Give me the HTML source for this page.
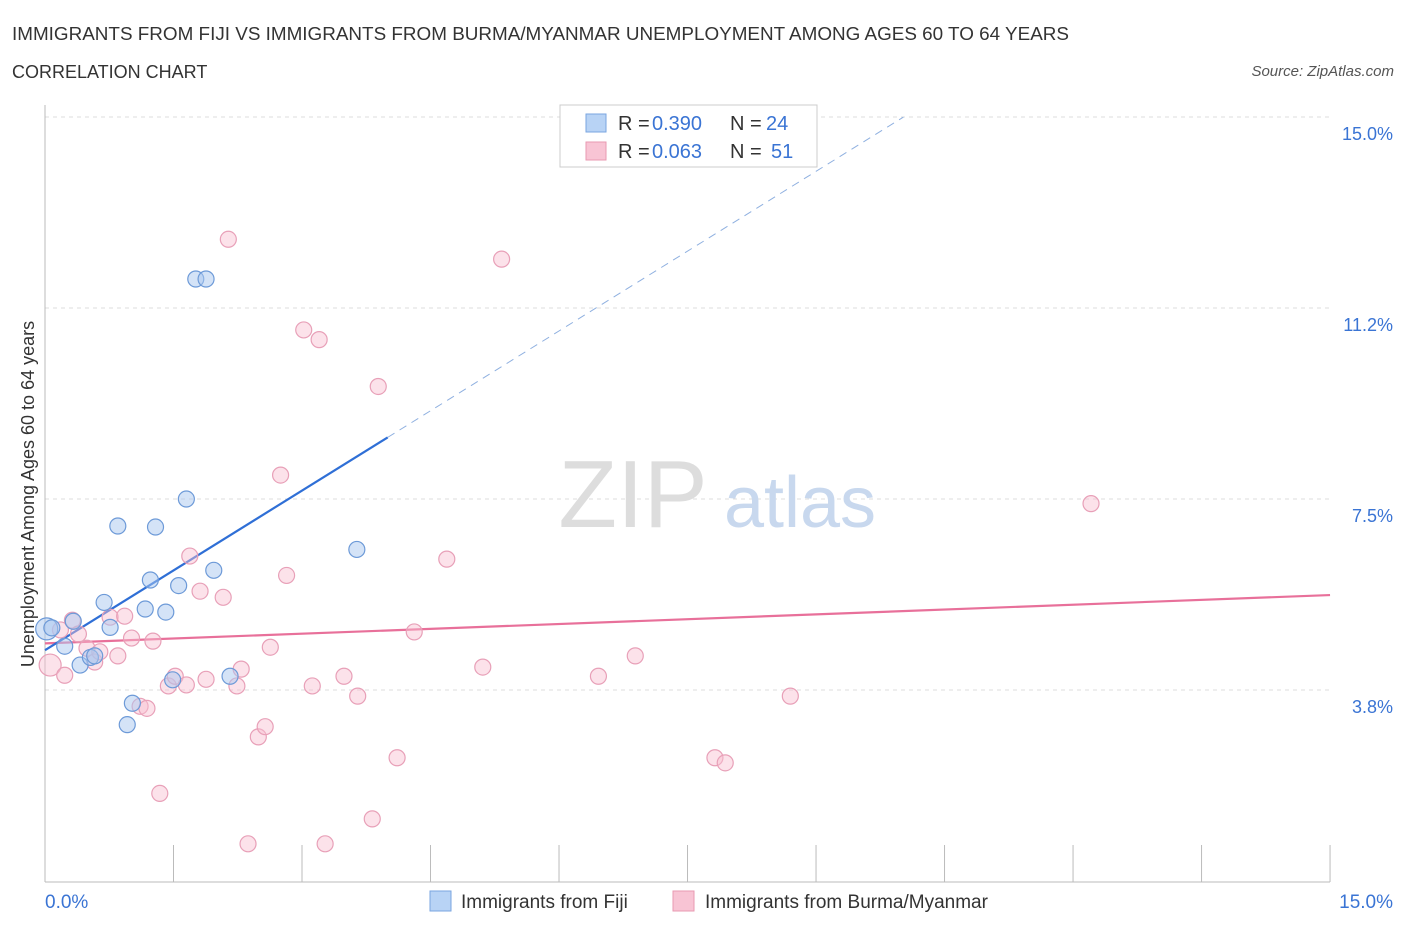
<!DOCTYPE html>
<html><head><meta charset="utf-8"><style>
body{margin:0;background:#fff;font-family:"Liberation Sans",sans-serif;}
svg text{font-family:"Liberation Sans",sans-serif;}
</style></head><body>
<svg width="1406" height="930" xmlns="http://www.w3.org/2000/svg">
<text x="12" y="40" font-size="18" fill="#333" textLength="1057" lengthAdjust="spacingAndGlyphs">IMMIGRANTS FROM FIJI VS IMMIGRANTS FROM BURMA/MYANMAR UNEMPLOYMENT AMONG AGES 60 TO 64 YEARS</text>
<text x="12" y="78" font-size="18" fill="#333">CORRELATION CHART</text>
<text x="1394" y="76" font-size="15" fill="#555" font-style="italic" text-anchor="end">Source: ZipAtlas.com</text>
<g id="grid"></g>
<text x="633" y="527" font-size="96" fill="#ddd" font-family="Liberation Serif" text-anchor="middle">ZIP</text>
<text x="800" y="527" font-size="72" fill="#c8d8ee" text-anchor="middle">atlas</text>
<text transform="translate(34,494) rotate(-90)" font-size="18" fill="#333" text-anchor="middle">Unemployment Among Ages 60 to 64 years</text>
<g id="lines"></g>
<g id="points"></g>
<g>
<rect x="560" y="105" width="257" height="62" fill="#fff" stroke="#ccc"/>
<rect x="586" y="114" width="20" height="18" fill="#b8d3f5" stroke="#7aa6e0"/>
<text x="618" y="130" font-size="20" fill="#333">R =</text>
<text x="652" y="130" font-size="20" fill="#3a74d4">0.390</text>
<text x="730" y="130" font-size="20" fill="#333">N =</text>
<text x="766" y="130" font-size="20" fill="#3a74d4">24</text>
<rect x="586" y="142" width="20" height="18" fill="#f8c4d4" stroke="#e89ab2"/>
<text x="618" y="158" font-size="20" fill="#333">R =</text>
<text x="652" y="158" font-size="20" fill="#3a74d4">0.063</text>
<text x="730" y="158" font-size="20" fill="#333">N =</text>
<text x="771" y="158" font-size="20" fill="#3a74d4">51</text>
</g>
<g>
<rect x="430" y="891" width="21" height="20" fill="#b8d3f5" stroke="#7aa6e0"/>
<text x="461" y="908" font-size="19" fill="#333">Immigrants from Fiji</text>
<rect x="673" y="891" width="21" height="20" fill="#f8c4d4" stroke="#e89ab2"/>
<text x="705" y="908" font-size="19" fill="#333">Immigrants from Burma/Myanmar</text>
</g>
</svg>
<script>
const fijiX=[0.02,0.08,0.23,0.33,0.41,0.53,0.58,0.69,0.76,0.85,0.96,1.02,1.17,1.23,1.29,1.41,1.49,1.56,1.65,1.76,1.88,1.97,2.16,3.64];
const fijiY=[4.95,4.97,4.61,5.1,4.24,4.39,4.42,5.47,4.98,6.97,3.07,3.49,5.34,5.91,6.95,5.28,3.95,5.8,7.5,11.82,11.82,6.1,4.02,6.51];
const burmaX=[0.06,0.18,0.23,0.32,0.39,0.49,0.58,0.64,0.76,0.85,0.93,1.01,1.11,1.19,1.26,1.34,1.44,1.52,1.65,1.69,1.81,1.88,2.08,2.14,2.24,2.29,2.37,2.49,2.57,2.63,2.75,2.82,3.02,3.12,3.2,3.27,3.49,3.65,3.82,3.89,4.11,4.31,4.69,5.11,5.33,6.46,6.89,7.82,7.94,8.7,12.21];
const burmaY=[4.24,4.93,4.04,5.12,4.85,4.57,4.3,4.5,5.18,4.42,5.2,4.77,3.43,3.39,4.71,1.72,3.83,4.02,3.85,6.38,5.69,3.96,5.57,12.6,3.83,4.16,0.73,2.83,3.03,4.59,7.97,6.0,10.82,3.83,10.63,0.73,4.02,3.63,1.22,9.71,2.42,4.89,6.32,4.2,12.21,4.02,4.42,2.42,2.32,3.63,7.41];
const yTicks=[15.0,11.2,7.5,3.8];
const yTickVals=[15.0,11.25,7.5,3.75];
const ns="http://www.w3.org/2000/svg";
const X=v=>45+v*85.67, Y=v=>881-v*50.93;
function mk(t,a,p){const e=document.createElementNS(ns,t);for(const k in a)e.setAttribute(k,a[k]);p.appendChild(e);return e;}
const grid=document.getElementById('grid');
yTickVals.forEach((v,i)=>{
 const l=mk('line',{x1:45,x2:1330,y1:Y(v),y2:Y(v),stroke:'#ddd','stroke-dasharray':'4,4'},grid);
 
 
 const t=mk('text',{x:1393,y:Y(v)+23,'font-size':18,fill:'#3a74d4','text-anchor':'end'},grid);
 t.textContent=yTicks[i].toFixed(1)+'%';
 
 
});
const ax=mk('line',{x1:45,x2:1330,y1:882,y2:882,stroke:'#bbb'},grid);


const ay=mk('line',{x1:45,x2:45,y1:105,y2:882,stroke:'#bbb'},grid);


for(let i=1;i<=10;i++){const tk=mk('line',{x1:X(i*1.5),x2:X(i*1.5),y1:845,y2:882,stroke:'#bbb'},grid);
 
 }
[[0,'0.0%','start',45],[15,'15.0%','end',1393]].forEach(d=>{const t=mk('text',{x:d[3],y:908,'font-size':19,fill:'#3a74d4','text-anchor':d[2]},grid);t.textContent=d[1];
 
 });
const lines=document.getElementById('lines');
function fit(xs,ys){const n=xs.length,mx=xs.reduce((a,b)=>a+b)/n,my=ys.reduce((a,b)=>a+b)/n;let sxy=0,sxx=0;xs.forEach((x,i)=>{sxy+=(x-mx)*(ys[i]-my);sxx+=(x-mx)**2});const b=sxy/sxx;return [my-b*mx,b];}
const pts=document.getElementById('points');
burmaX.forEach((x,i)=>{const c=mk('circle',{cx:X(x),cy:Y(burmaY[i]),r:i==0?11:8,fill:'rgba(248,190,208,0.45)',stroke:'#e8a0b8','stroke-width':1.2},pts);
 
 });
fijiX.forEach((x,i)=>{const c=mk('circle',{cx:X(x),cy:Y(fijiY[i]),r:i==0?11:8,fill:'rgba(170,200,240,0.5)',stroke:'#6d9ad8','stroke-width':1.2},pts);
 
 });
const fb=fit(burmaX,burmaY);
const pl=mk('line',{x1:X(0),y1:Y(fb[0]),x2:X(15),y2:Y(fb[0]+fb[1]*15),stroke:'#e8709a','stroke-width':2.2},lines);


const ff=fit(fijiX,fijiY);
const xe=4.0;
const bl=mk('line',{x1:X(0),y1:Y(ff[0]),x2:X(xe),y2:Y(ff[0]+ff[1]*xe),stroke:'#2f6fd6','stroke-width':2.2},lines);


const xd=(15-ff[0])/ff[1];
const bd=mk('line',{x1:X(xe),y1:Y(ff[0]+ff[1]*xe),x2:X(xd),y2:Y(15),stroke:'#8fb0e0','stroke-width':1,'stroke-dasharray':'8,6'},lines);


</script>
</body></html>
